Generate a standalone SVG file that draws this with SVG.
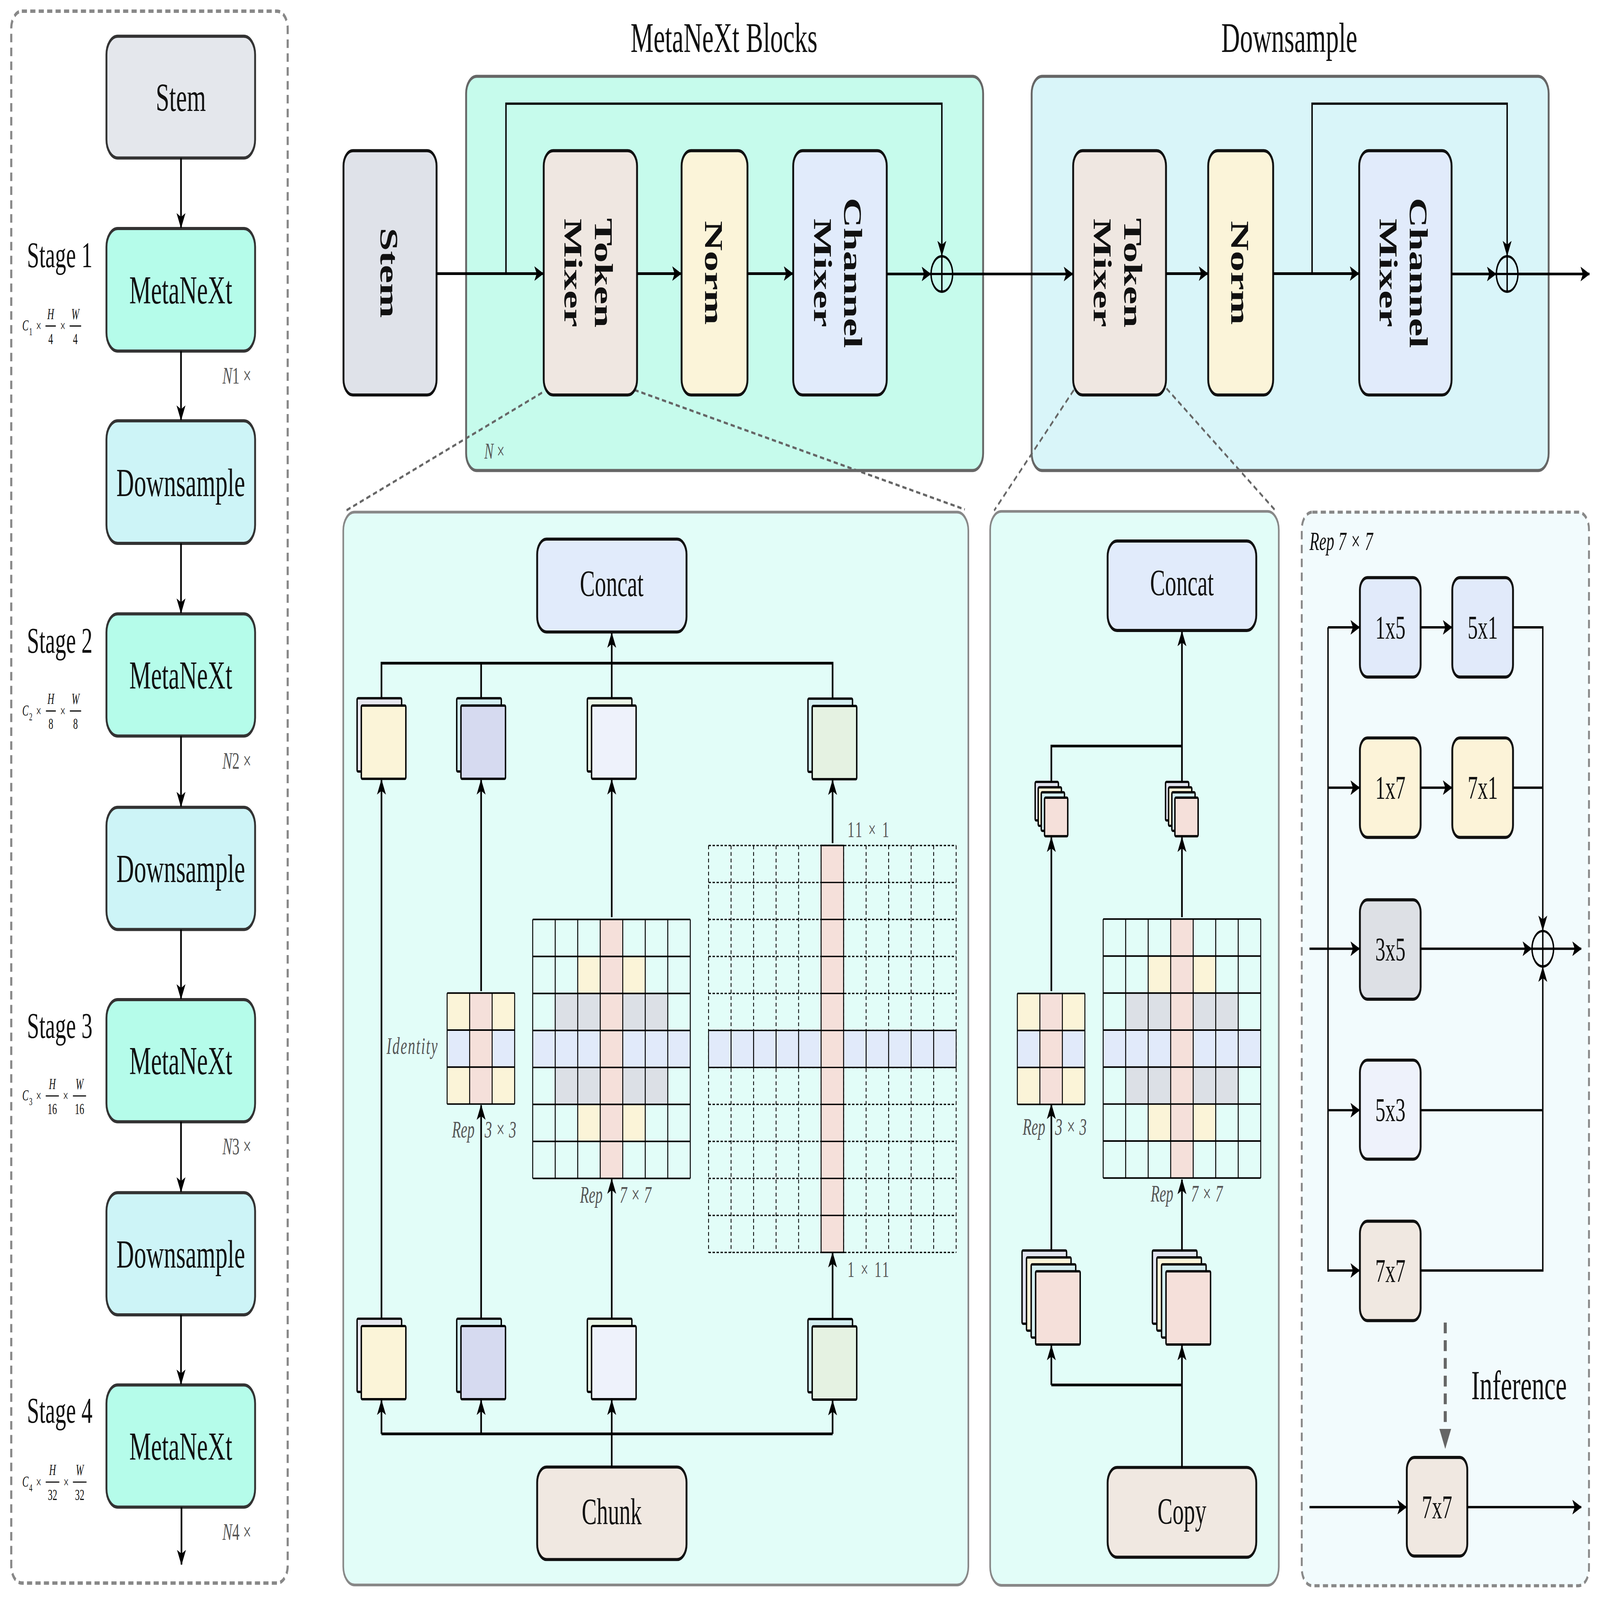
<svg xmlns="http://www.w3.org/2000/svg" width="6824" height="4152" viewBox="0 0 6824 4152" preserveAspectRatio="none" style="width:100vw;height:100vh">
<style>
text{font-family:"Liberation Serif","Times New Roman",serif;fill:#111}
.lb{stroke:#333;stroke-width:8}
.nd{stroke:#111;stroke-width:8}
.cn{fill:none;stroke:#000;stroke-width:7}
.ar{marker-end:url(#ah)}
.zl{fill:none;stroke:#666;stroke-width:6;stroke-dasharray:18 12}
.fm{stroke:#000;stroke-width:6}
.lbl{font-size:104px;text-anchor:middle}
.rot{font-size:108px;font-weight:bold;text-anchor:middle}
.bx{font-size:96px;text-anchor:middle}
.k{font-size:86px;text-anchor:middle}
.gi{font-style:italic;fill:#555}
.fr{font-size:40px}
.mid{text-anchor:middle}
.bar{stroke:#000;stroke-width:3}
</style>
<defs>
<marker id="ah" markerUnits="userSpaceOnUse" markerWidth="40" markerHeight="40" viewBox="0 0 40 40" refX="38" refY="20" orient="auto"><path d="M0,1 L40,20 L0,39 L10,20 Z" fill="#000"/></marker>
<g id="g7">
<rect x="0" y="288" width="672" height="96" fill="#E1EAFA"/>
<rect x="96" y="192" width="192" height="96" fill="#DCE0E6"/>
<rect x="384" y="192" width="192" height="96" fill="#DCE0E6"/>
<rect x="96" y="384" width="192" height="96" fill="#DCE0E6"/>
<rect x="384" y="384" width="192" height="96" fill="#DCE0E6"/>
<rect x="192" y="96" width="96" height="96" fill="#FBF4D8"/>
<rect x="384" y="96" width="96" height="96" fill="#FBF4D8"/>
<rect x="192" y="480" width="96" height="96" fill="#FBF4D8"/>
<rect x="384" y="480" width="96" height="96" fill="#FBF4D8"/>
<rect x="288" y="0" width="96" height="672" fill="#F5E0DA"/>
<path d="M0 0V672M96 0V672M192 0V672M288 0V672M384 0V672M480 0V672M576 0V672M672 0V672M0 0H672M0 96H672M0 192H672M0 288H672M0 384H672M0 480H672M0 576H672M0 672H672" fill="none" stroke="#000" stroke-width="4"/>
</g>
<g id="g3">
<rect x="0" y="0" width="288" height="288" fill="#FBF4D8"/>
<rect x="0" y="96" width="288" height="96" fill="#E1EAFA"/>
<rect x="96" y="0" width="96" height="288" fill="#F5E0DA"/>
<path d="M0 0V288M96 0V288M192 0V288M288 0V288M0 0H288M0 96H288M0 192H288M0 288H288" fill="none" stroke="#000" stroke-width="4"/>
</g>
</defs>
<rect width="6824" height="4152" fill="#fff"/>

<!-- Left overview panel -->
<g id="overview">
<rect x="48" y="29" width="1179" height="4079" rx="45" fill="#fff" stroke="#888" stroke-width="9" stroke-dasharray="22 14"/>
</g>
<g id="ov-stem"><rect class="lb" x="454" y="94" width="634" height="316" rx="48" fill="#E4E7EC"/><text class="lbl" x="771" y="288">Stem</text></g>
<g id="ov-meta1"><rect class="lb" x="454" y="593" width="634" height="318" rx="48" fill="#B5FCEA"/><text class="lbl" x="771" y="788">MetaNeXt</text></g>
<g id="ov-down1"><rect class="lb" x="454" y="1092" width="634" height="318" rx="48" fill="#CDF4F7"/><text class="lbl" x="771" y="1287">Downsample</text></g>
<g id="ov-meta2"><rect class="lb" x="454" y="1593" width="634" height="317" rx="48" fill="#B5FCEA"/><text class="lbl" x="771" y="1787">MetaNeXt</text></g>
<g id="ov-down2"><rect class="lb" x="454" y="2095" width="634" height="317" rx="48" fill="#CDF4F7"/><text class="lbl" x="771" y="2289">Downsample</text></g>
<g id="ov-meta3"><rect class="lb" x="454" y="2594" width="634" height="317" rx="48" fill="#B5FCEA"/><text class="lbl" x="771" y="2788">MetaNeXt</text></g>
<g id="ov-down3"><rect class="lb" x="454" y="3095" width="634" height="317" rx="48" fill="#CDF4F7"/><text class="lbl" x="771" y="3289">Downsample</text></g>
<g id="ov-meta4"><rect class="lb" x="454" y="3594" width="634" height="317" rx="48" fill="#B5FCEA"/><text class="lbl" x="771" y="3788">MetaNeXt</text></g>

<g id="ov-labels">
<text x="115" y="693" font-size="94">Stage 1</text>
<text x="115" y="1694" font-size="94">Stage 2</text>
<text x="115" y="2693" font-size="94">Stage 3</text>
<text x="115" y="3692" font-size="94">Stage 4</text>
<g class="fr">
<text x="95" y="858" font-style="italic">C</text><text x="124" y="870" font-size="28">1</text><text class="mid" x="165" y="860">×</text>
<line class="bar" x1="194" y1="846" x2="238" y2="846"/><text class="mid" x="216" y="828" font-style="italic">H</text><text class="mid" x="216" y="893">4</text>
<text class="mid" x="268" y="860">×</text>
<line class="bar" x1="297" y1="846" x2="346" y2="846"/><text class="mid" x="321" y="828" font-style="italic">W</text><text class="mid" x="321" y="893">4</text>

<text x="95" y="1857" font-style="italic">C</text><text x="124" y="1869" font-size="28">2</text><text class="mid" x="165" y="1859">×</text>
<line class="bar" x1="196" y1="1845" x2="238" y2="1845"/><text class="mid" x="217" y="1827" font-style="italic">H</text><text class="mid" x="217" y="1892">8</text>
<text class="mid" x="268" y="1859">×</text>
<line class="bar" x1="298" y1="1845" x2="346" y2="1845"/><text class="mid" x="322" y="1827" font-style="italic">W</text><text class="mid" x="322" y="1892">8</text>

<text x="95" y="2856" font-style="italic">C</text><text x="124" y="2868" font-size="28">3</text><text class="mid" x="165" y="2858">×</text>
<line class="bar" x1="195" y1="2844" x2="251" y2="2844"/><text class="mid" x="223" y="2826" font-style="italic">H</text><text class="mid" x="223" y="2891">16</text>
<text class="mid" x="280" y="2858">×</text>
<line class="bar" x1="311" y1="2844" x2="367" y2="2844"/><text class="mid" x="339" y="2826" font-style="italic">W</text><text class="mid" x="339" y="2891">16</text>

<text x="95" y="3858" font-style="italic">C</text><text x="124" y="3870" font-size="28">4</text><text class="mid" x="165" y="3860">×</text>
<line class="bar" x1="195" y1="3846" x2="253" y2="3846"/><text class="mid" x="224" y="3828" font-style="italic">H</text><text class="mid" x="224" y="3893">32</text>
<text class="mid" x="282" y="3860">×</text>
<line class="bar" x1="311" y1="3846" x2="369" y2="3846"/><text class="mid" x="340" y="3828" font-style="italic">W</text><text class="mid" x="340" y="3893">32</text>
</g>
<text class="gi" x="949" y="995" font-size="62"><tspan font-style="italic">N</tspan><tspan font-style="normal">1 ×</tspan></text>
<text class="gi" x="949" y="1995" font-size="62"><tspan font-style="italic">N</tspan><tspan font-style="normal">2 ×</tspan></text>
<text class="gi" x="949" y="2995" font-size="62"><tspan font-style="italic">N</tspan><tspan font-style="normal">3 ×</tspan></text>
<text class="gi" x="949" y="3996" font-size="62"><tspan font-style="italic">N</tspan><tspan font-style="normal">4 ×</tspan></text>
</g>

<!-- Top blocks -->
<g id="metanext-blocks">
<text x="3088" y="135" font-size="110" text-anchor="middle">MetaNeXt Blocks</text>
<rect x="1988" y="198" width="2205" height="1023" rx="45" fill="#C6FBEC" stroke="#666" stroke-width="8"/>
<text class="gi" x="2066" y="1190" font-size="58"><tspan font-style="italic">N</tspan><tspan font-style="normal"> ×</tspan></text>
</g>
<g id="downsample-block">
<text x="5499" y="135" font-size="110" text-anchor="middle">Downsample</text>
<rect x="4400" y="198" width="2205" height="1023" rx="45" fill="#D9F5F9" stroke="#666" stroke-width="8"/>
</g>

<!-- Zoom guide lines -->
<g id="zoom-lines">
<path class="zl" d="M2312,1019 L1470,1327"/>
<path class="zl" d="M2706,1012 L4115,1322"/>
<path class="zl" d="M4580,1012 L4240,1325"/>
<path class="zl" d="M4975,1008 L5440,1325"/>
</g>

<g id="top-stem"><rect class="nd" x="1465" y="391" width="397" height="634" rx="40" fill="#DFE2E9"/><text class="rot" transform="translate(1663,708) rotate(90)" x="0" y="40">Stem</text></g>
<g id="top-token"><rect class="nd" x="2319" y="391" width="398" height="634" rx="40" fill="#EFE7E1"/><text class="rot" transform="translate(2518,708) rotate(90)"><tspan x="0" y="-19">Token</tspan><tspan x="0" y="110">Mixer</tspan></text></g>
<g id="top-norm"><rect class="nd" x="2907" y="391" width="281" height="634" rx="40" fill="#FBF4D9"/><text class="rot" transform="translate(3047,708) rotate(90)" x="0" y="40">Norm</text></g>
<g id="top-channel"><rect class="nd" x="3383" y="391" width="399" height="634" rx="40" fill="#E1EBFB"/><text class="rot" transform="translate(3582,708) rotate(90)"><tspan x="0" y="-19">Channel</tspan><tspan x="0" y="110">Mixer</tspan></text></g>
<g id="top-add1"><circle cx="4017" cy="711" r="46" fill="none" stroke="#000" stroke-width="6"/><path d="M3971,711H4063M4017,665V757" stroke="#000" stroke-width="6"/></g>

<g id="ds-token"><rect class="nd" x="4577" y="391" width="396" height="634" rx="40" fill="#EFE7E1"/><text class="rot" transform="translate(4775,708) rotate(90)"><tspan x="0" y="-19">Token</tspan><tspan x="0" y="110">Mixer</tspan></text></g>
<g id="ds-norm"><rect class="nd" x="5153" y="391" width="277" height="634" rx="40" fill="#FBF4D9"/><text class="rot" transform="translate(5291,708) rotate(90)" x="0" y="40">Norm</text></g>
<g id="ds-channel"><rect class="nd" x="5797" y="391" width="394" height="634" rx="40" fill="#E1EBFB"/><text class="rot" transform="translate(5994,708) rotate(90)"><tspan x="0" y="-19">Channel</tspan><tspan x="0" y="110">Mixer</tspan></text></g>
<g id="ds-add"><circle cx="6428" cy="711" r="46" fill="none" stroke="#000" stroke-width="6"/><path d="M6382,711H6474M6428,665V757" stroke="#000" stroke-width="6"/></g>

<!-- Bottom panels -->
<g id="panel-token-mixer">
<rect x="1464" y="1329" width="2666" height="2784" rx="48" fill="#E2FDF8" stroke="#888" stroke-width="7"/>
</g>
<g id="panel-downsample-mixer">
<rect x="4223" y="1327" width="1231" height="2787" rx="48" fill="#E2FDF8" stroke="#888" stroke-width="7"/>
</g>
<g id="panel-rep">
<rect x="5552" y="1329" width="1225" height="2786" rx="45" fill="#F2FBFD" stroke="#888" stroke-width="8" stroke-dasharray="22 14"/>
<text x="5585" y="1427" font-size="68" font-style="italic">Rep 7 × 7</text>
</g>

<!-- Panel 1 content -->
<g id="p1-concat"><rect class="nd" x="2291" y="1399" width="637" height="241" rx="40" fill="#E1EBFB"/><text class="bx" x="2609" y="1547">Concat</text></g>
<g id="p1-chunk"><rect class="nd" x="2291" y="3807" width="637" height="240" rx="40" fill="#F0E8E1"/><text class="bx" x="2609" y="3955">Chunk</text></g>

<g id="p1-maps-top">
<rect class="fm" x="1523" y="1812" width="190" height="190" rx="4" fill="#E6E6EE"/><rect class="fm" x="1541" y="1831" width="190" height="190" rx="4" fill="#FBF4D8"/>
<rect class="fm" x="1948" y="1812" width="190" height="190" rx="4" fill="#D4EEF0"/><rect class="fm" x="1966" y="1831" width="190" height="190" rx="4" fill="#D6DAF0"/>
<rect class="fm" x="2505" y="1812" width="190" height="190" rx="4" fill="#EAF5E6"/><rect class="fm" x="2523" y="1831" width="190" height="190" rx="4" fill="#EEF2FB"/>
<rect class="fm" x="3446" y="1813" width="190" height="190" rx="4" fill="#D4EEF0"/><rect class="fm" x="3464" y="1832" width="190" height="190" rx="4" fill="#E5F2E2"/>
</g>
<g id="p1-maps-bottom">
<rect class="fm" x="1523" y="3422" width="190" height="190" rx="4" fill="#E6E6EE"/><rect class="fm" x="1541" y="3441" width="190" height="190" rx="4" fill="#FBF4D8"/>
<rect class="fm" x="1948" y="3422" width="190" height="190" rx="4" fill="#D4EEF0"/><rect class="fm" x="1966" y="3441" width="190" height="190" rx="4" fill="#D6DAF0"/>
<rect class="fm" x="2505" y="3422" width="190" height="190" rx="4" fill="#EAF5E6"/><rect class="fm" x="2523" y="3441" width="190" height="190" rx="4" fill="#EEF2FB"/>
<rect class="fm" x="3446" y="3423" width="190" height="190" rx="4" fill="#D4EEF0"/><rect class="fm" x="3464" y="3442" width="190" height="190" rx="4" fill="#E5F2E2"/>
</g>
<g id="p1-rep3"><use href="#g3" x="1907" y="2577"/></g>
<g id="p1-rep7"><use href="#g7" x="2272" y="2386"/></g>
<g id="p1-strip">
<g transform="translate(3022,2194)">
<path d="M0 0V1056M96 0V1056M192 0V1056M288 0V1056M384 0V1056M480 0V1056M576 0V1056M672 0V1056M768 0V1056M864 0V1056M960 0V1056M1056 0V1056M0 0H1056M0 96H1056M0 192H1056M0 288H1056M0 384H1056M0 480H1056M0 576H1056M0 672H1056M0 768H1056M0 864H1056M0 960H1056M0 1056H1056" fill="none" stroke="#000" stroke-width="3.5" stroke-dasharray="10 7"/>
<rect x="0" y="480" width="1056" height="96" fill="#E1EAFA" stroke="#000" stroke-width="3.5"/>
<path d="M96 480V576M192 480V576M288 480V576M384 480V576M672 480V576M768 480V576M864 480V576M960 480V576" stroke="#000" stroke-width="4"/>
<rect x="480" y="0" width="96" height="1056" fill="#F5E0DA" stroke="#000" stroke-width="4"/>
<path d="M480 96H576M480 192H576M480 288H576M480 384H576M480 480H576M480 576H576M480 672H576M480 768H576M480 864H576M480 960H576" stroke="#000" stroke-width="3.5"/>
</g>
</g>
<g id="p1-labels">
<text class="gi" x="1870" y="2735" font-size="62" text-anchor="end" letter-spacing="4">Identity</text>
<text class="gi" x="2024" y="2952" font-size="62" text-anchor="end">Rep</text><text class="gi" x="2067" y="2952" font-size="62">3 × 3</text>
<text class="gi" x="2570" y="3121" font-size="62" text-anchor="end">Rep</text><text class="gi" x="2643" y="3121" font-size="62">7 × 7</text>
<text x="3615" y="2172" font-size="58" style="fill:#555" letter-spacing="6">11 × 1</text>
<text x="3615" y="3314" font-size="58" style="fill:#555" letter-spacing="6">1 × 11</text>
</g>

<!-- Panel 2 content -->
<g id="p2-concat"><rect class="nd" x="4724" y="1404" width="634" height="232" rx="40" fill="#E1EBFB"/><text class="bx" x="5041" y="1545">Concat</text></g>
<g id="p2-copy"><rect class="nd" x="4724" y="3808" width="634" height="233" rx="40" fill="#F0E8E1"/><text class="bx" x="5041" y="3954">Copy</text></g>
<g id="p2-maps-top">
<rect class="fm" x="4415" y="2029" width="99" height="100" rx="4" fill="#E2E3EE"/><rect class="fm" x="4428" y="2043" width="99" height="100" rx="4" fill="#FBF4D8"/><rect class="fm" x="4441" y="2056" width="99" height="100" rx="4" fill="#D4EEF0"/><rect class="fm" x="4455" y="2070" width="99" height="100" rx="4" fill="#F5E0DA"/>
<rect class="fm" x="4971" y="2029" width="99" height="100" rx="4" fill="#E2E3EE"/><rect class="fm" x="4984" y="2043" width="99" height="100" rx="4" fill="#FBF4D8"/><rect class="fm" x="4998" y="2056" width="99" height="100" rx="4" fill="#D4EEF0"/><rect class="fm" x="5011" y="2070" width="99" height="100" rx="4" fill="#F5E0DA"/>
</g>
<g id="p2-maps-bottom">
<rect class="fm" x="4359" y="3245" width="190" height="190" rx="4" fill="#E2E3EE"/><rect class="fm" x="4378" y="3263" width="190" height="190" rx="4" fill="#FBF4D8"/><rect class="fm" x="4398" y="3281" width="190" height="190" rx="4" fill="#D4EEF0"/><rect class="fm" x="4417" y="3299" width="190" height="190" rx="4" fill="#F5E0DA"/>
<rect class="fm" x="4915" y="3245" width="190" height="190" rx="4" fill="#E2E3EE"/><rect class="fm" x="4934" y="3263" width="190" height="190" rx="4" fill="#FBF4D8"/><rect class="fm" x="4954" y="3281" width="190" height="190" rx="4" fill="#D4EEF0"/><rect class="fm" x="4973" y="3299" width="190" height="190" rx="4" fill="#F5E0DA"/>
</g>
<g id="p2-rep3"><use href="#g3" x="4339" y="2578"/></g>
<g id="p2-rep7"><use href="#g7" x="4705" y="2385"/></g>
<g id="p2-labels">
<text class="gi" x="4458" y="2945" font-size="62" text-anchor="end">Rep</text><text class="gi" x="4500" y="2945" font-size="62">3 × 3</text>
<text class="gi" x="5004" y="3118" font-size="62" text-anchor="end">Rep</text><text class="gi" x="5080" y="3118" font-size="62">7 × 7</text>
</g>

<!-- Panel 3 content -->
<g id="r-1x5"><rect class="nd" x="5800" y="1499" width="259" height="258" rx="32" fill="#E1EAFA"/><text class="k" x="5930" y="1657">1x5</text></g>
<g id="r-5x1"><rect class="nd" x="6194" y="1499" width="259" height="258" rx="32" fill="#E1EAFA"/><text class="k" x="6324" y="1657">5x1</text></g>
<g id="r-1x7"><rect class="nd" x="5800" y="1915" width="259" height="258" rx="32" fill="#FCF3D8"/><text class="k" x="5930" y="2073">1x7</text></g>
<g id="r-7x1"><rect class="nd" x="6194" y="1915" width="259" height="258" rx="32" fill="#FCF3D8"/><text class="k" x="6324" y="2073">7x1</text></g>
<g id="r-3x5"><rect class="nd" x="5800" y="2335" width="259" height="258" rx="32" fill="#DDE0E5"/><text class="k" x="5930" y="2493">3x5</text></g>
<g id="r-5x3"><rect class="nd" x="5800" y="2751" width="259" height="257" rx="32" fill="#EEF2FB"/><text class="k" x="5930" y="2909">5x3</text></g>
<g id="r-7x7"><rect class="nd" x="5800" y="3169" width="259" height="258" rx="32" fill="#F0E8E1"/><text class="k" x="5930" y="3327">7x7</text></g>
<g id="r-add"><circle cx="6580" cy="2462" r="46" fill="none" stroke="#000" stroke-width="6"/><path d="M6534,2462H6626M6580,2416V2508" stroke="#000" stroke-width="6"/></g>
<g id="r-inference"><text x="6275" y="3631" font-size="108">Inference</text></g>
<g id="r-7x7-inf"><rect class="nd" x="6000" y="3782" width="258" height="256" rx="32" fill="#F0E8E1"/><text class="k" x="6129" y="3940">7x7</text></g>

<!-- Connectors -->
<g id="connectors">
<path class="cn ar" d="M772,410V591"/>
<path class="cn ar" d="M772,911V1090"/>
<path class="cn ar" d="M772,1410V1591"/>
<path class="cn ar" d="M772,1910V2093"/>
<path class="cn ar" d="M772,2412V2592"/>
<path class="cn ar" d="M772,2911V3093"/>
<path class="cn ar" d="M772,3412V3592"/>
<path class="cn ar" d="M774,3911V4060"/>

<path class="cn ar" d="M1862,710H2317"/>
<path class="cn ar" style="stroke-width:6" d="M2158,710V269H4017V663"/>
<path class="cn ar" d="M2717,710H2905"/>
<path class="cn ar" d="M3188,710H3381"/>
<path class="cn ar" d="M3782,711H3969"/>
<path class="cn ar" d="M4063,711H4575"/>
<path class="cn ar" d="M4973,710H5151"/>
<path class="cn ar" d="M5430,710H5795"/>
<path class="cn ar" style="stroke-width:6" d="M5596,710V269H6428V663"/>
<path class="cn ar" d="M6191,711H6380"/>
<path class="cn ar" d="M6474,711H6779"/>

<path class="cn ar" d="M2609,3807V3634"/>
<path class="cn" d="M1627,3721H3551"/>
<path class="cn ar" d="M1627,3721V3634"/>
<path class="cn ar" d="M2052,3721V3634"/>
<path class="cn ar" d="M3551,3721V3635"/>
<path class="cn ar" d="M1627,3422V2024"/>
<path class="cn ar" d="M2052,3422V2868"/>
<path class="cn ar" d="M2052,2572V2024"/>
<path class="cn ar" d="M2609,3422V3060"/>
<path class="cn ar" d="M2609,2380V2024"/>
<path class="cn ar" d="M3551,3423V3251"/>
<path class="cn ar" d="M3551,2188V2025"/>
<path class="cn" d="M1627,1812V1721H3551V1813M2052,1812V1721"/>
<path class="cn ar" d="M2609,1812V1643"/>

<path class="cn ar" d="M5041,3808V3492"/>
<path class="cn" d="M4484,3594H5041"/>
<path class="cn ar" d="M4484,3594V3492"/>
<path class="cn ar" d="M4484,3245V2866"/>
<path class="cn ar" d="M5041,3245V3061"/>
<path class="cn ar" d="M4484,2572V2173"/>
<path class="cn ar" d="M5041,2380V2173"/>
<path class="cn" d="M4484,2029V1936H5041"/>
<path class="cn ar" d="M5041,2029V1639"/>

<path class="cn ar" style="stroke-width:6" d="M5585,2462H5798"/>
<path class="cn ar" style="stroke-width:6" d="M5664,1628V3297H5798"/>
<path class="cn ar" style="stroke-width:6" d="M5664,1628H5798"/>
<path class="cn ar" style="stroke-width:6" d="M5664,2044H5798"/>
<path class="cn ar" style="stroke-width:6" d="M5664,2881H5798"/>
<path class="cn ar" style="stroke-width:6" d="M6059,1628H6192"/>
<path class="cn ar" style="stroke-width:6" d="M6059,2044H6192"/>
<path class="cn ar" style="stroke-width:6" d="M6453,1628H6580V2414"/>
<path class="cn" style="stroke-width:6" d="M6453,2044H6580"/>
<path class="cn ar" style="stroke-width:6" d="M6059,2462H6532"/>
<path class="cn" style="stroke-width:6" d="M6059,2881H6580"/>
<path class="cn ar" style="stroke-width:6" d="M6059,3297H6580V2510"/>
<path class="cn ar" style="stroke-width:6" d="M6626,2462H6744"/>
<path class="cn ar" style="stroke-width:6" d="M5585,3911H5998"/>
<path class="cn ar" style="stroke-width:6" d="M6258,3911H6744"/>
<path d="M6164,3432V3706" fill="none" stroke="#666" stroke-width="13" stroke-dasharray="28 18"/>
<polygon points="6139,3708 6189,3708 6164,3760" fill="#666"/>
</g>
</svg>
